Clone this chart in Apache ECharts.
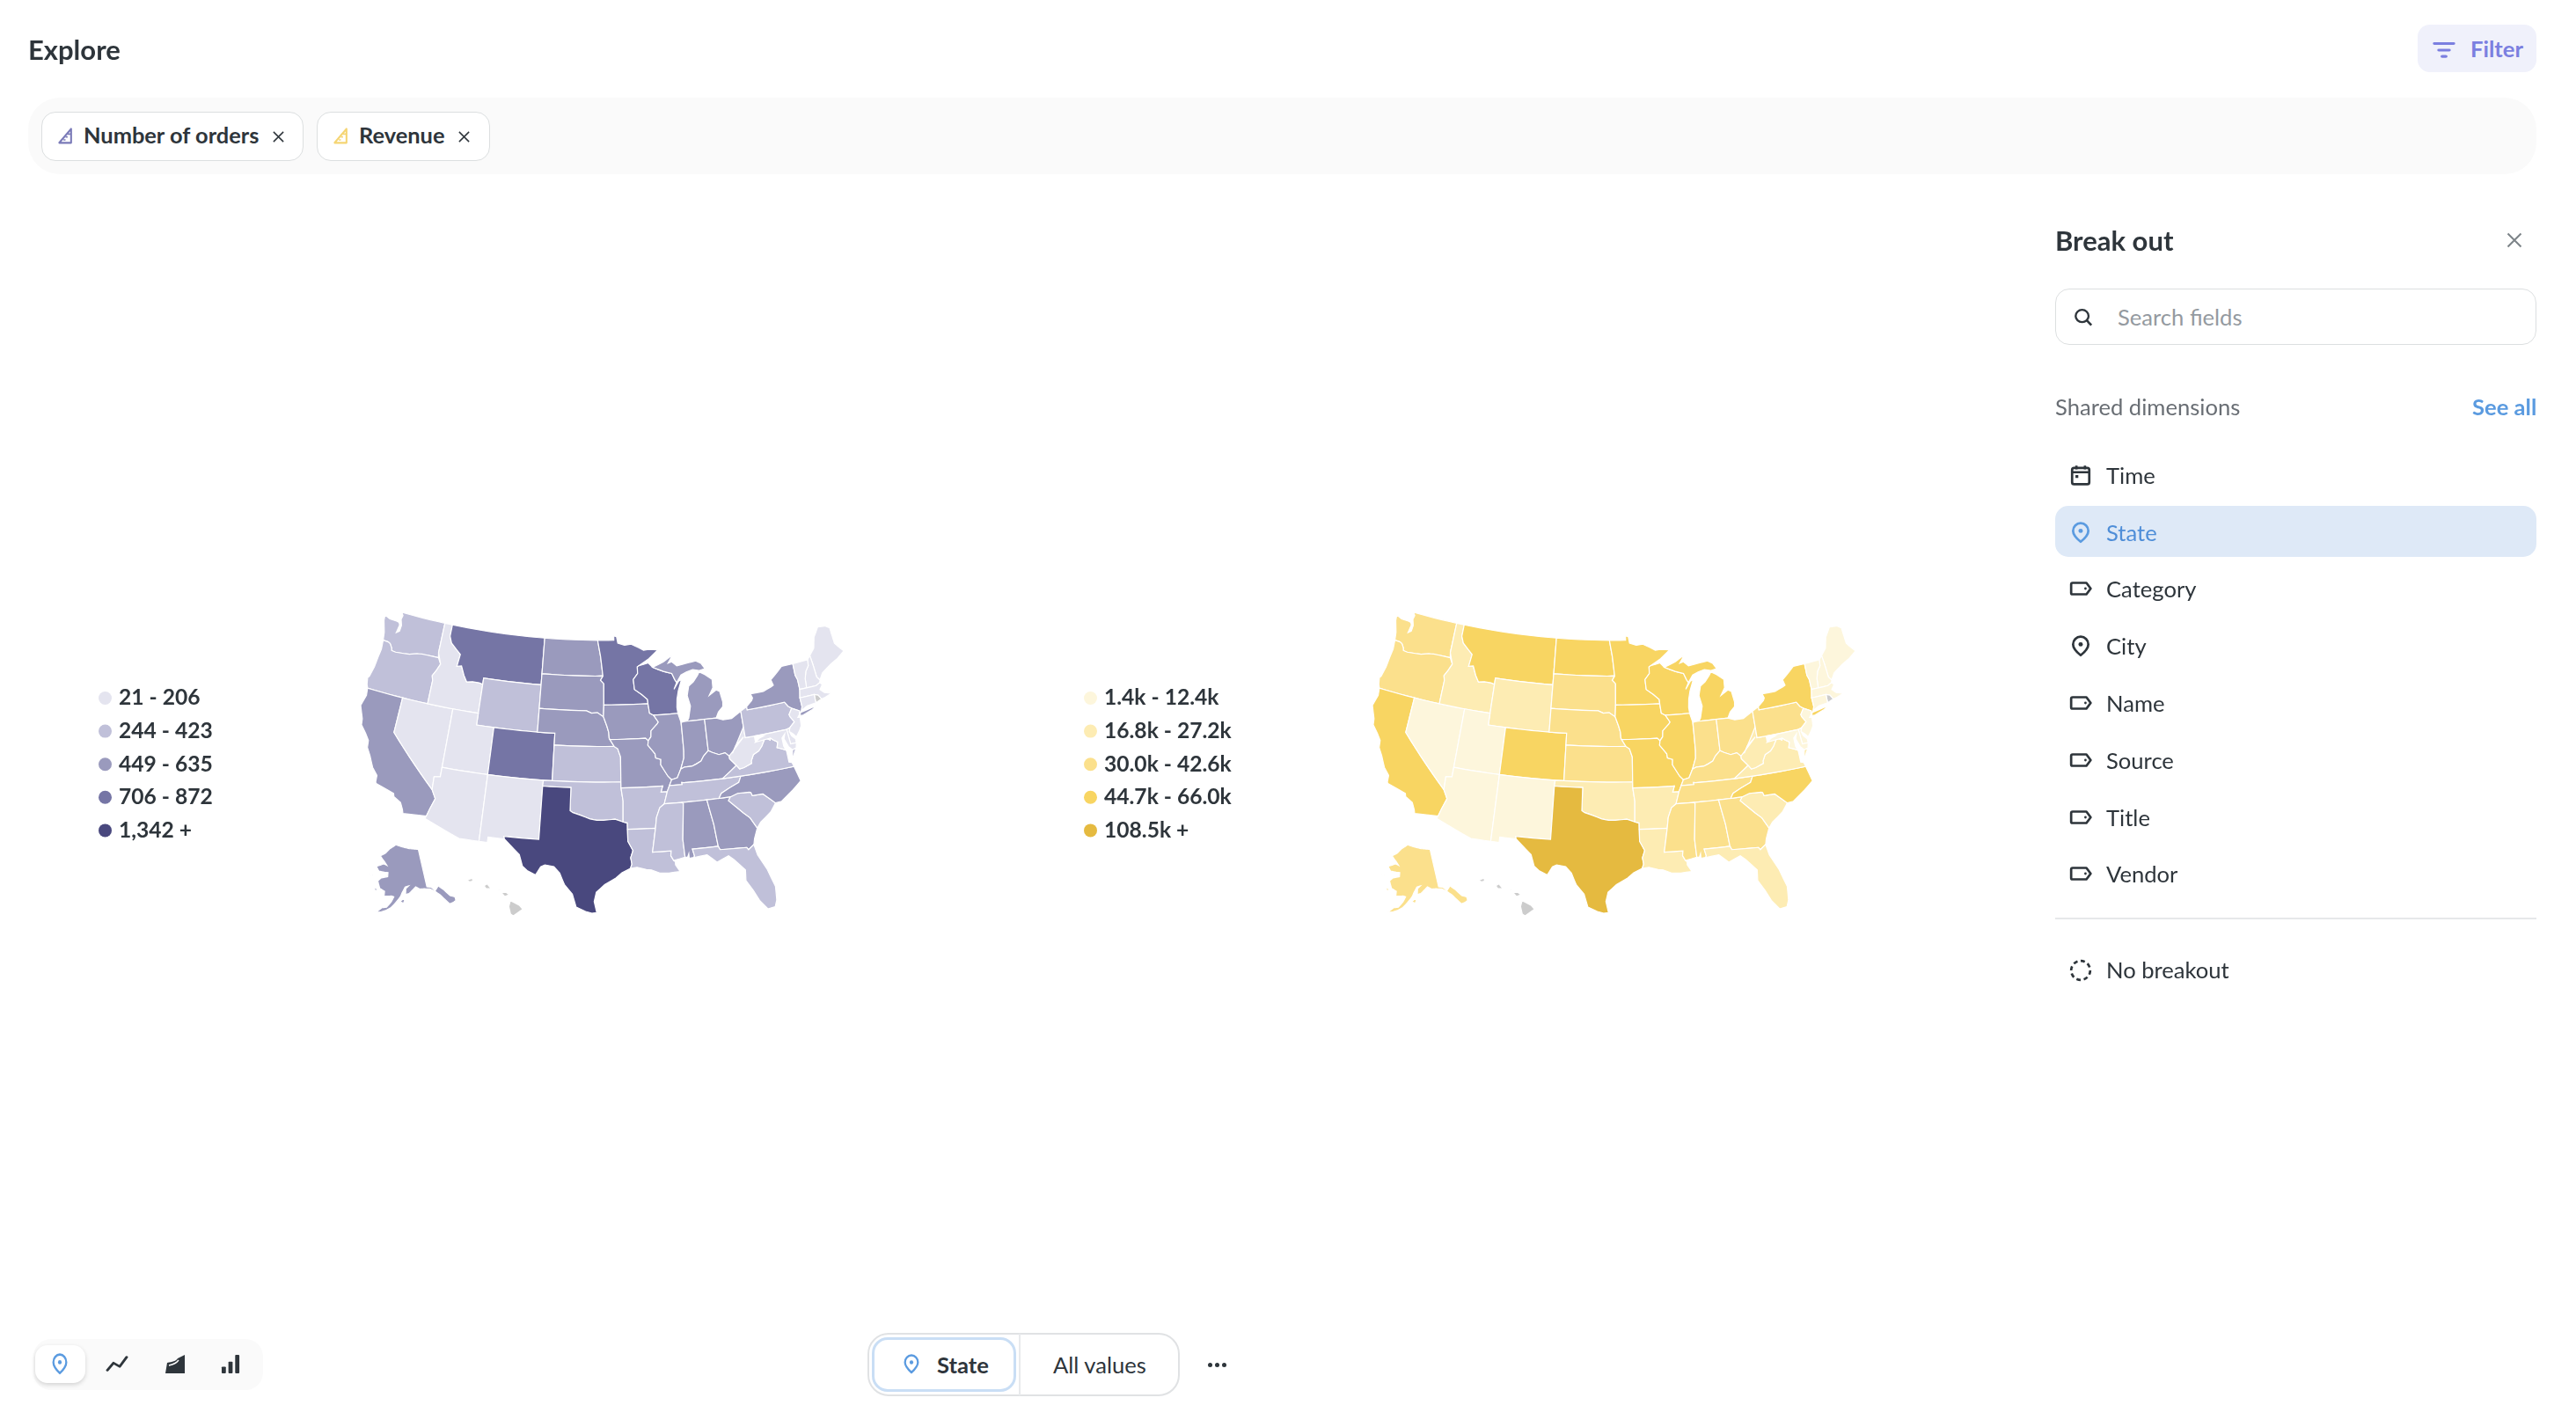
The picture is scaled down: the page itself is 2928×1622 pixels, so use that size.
<!DOCTYPE html>
<html><head><meta charset="utf-8">
<script src="https://cdn.jsdelivr.net/npm/echarts@6/dist/echarts.min.js"></script>
<style>
html,body{margin:0;padding:0;width:2928px;height:1622px;background:#fff;overflow:hidden;font-family:Lato,sans-serif;color:#2E353B}
#chart{position:absolute;left:0;top:0;width:2928px;height:1622px}
.b{position:absolute;box-sizing:border-box}
.t{position:absolute;white-space:nowrap;line-height:1;transform:translateY(-50%)}
svg{position:absolute;overflow:visible}
</style></head><body>
<div id="chart"></div>
<div id="ui"></div>
<script>
// ---------- chart data ----------
const stateNames = ['Washington','Oregon','California','Nevada','Idaho','Montana','Wyoming','Utah','Arizona','Colorado','New Mexico','North Dakota','South Dakota','Nebraska','Kansas','Oklahoma','Texas','Minnesota','Iowa','Missouri','Arkansas','Louisiana','Wisconsin','Illinois','Michigan','Indiana','Ohio','Kentucky','Tennessee','Mississippi','Alabama','Georgia','Florida','South Carolina','North Carolina','Virginia','West Virginia','Pennsylvania','New York','Maine','New Hampshire','Vermont','Massachusetts','Connecticut','New Jersey','Delaware','Maryland','Alaska'];
const orderValues = [330,300,560,150,130,800,290,120,190,760,110,480,470,500,330,280,1342,872,540,520,300,270,706,590,620,560,600,635,340,280,500,520,423,244,580,380,206,400,600,21,60,30,170,90,140,50,160,449];
const revenueValues = [34000,36000,60000,9000,22000,52000,20000,12000,11000,47000,8000,46000,38000,33000,35000,27000,108500,54000,49000,48000,24000,25000,50000,62000,66000,40000,42000,41000,37000,31000,30000,39000,27200,16800,58000,26000,18000,42600,64000,1400,5000,2500,12400,7000,10000,3000,6000,32000];
const orderLabels = ['21 - 206','244 - 423','449 - 635','706 - 872','1,342 +'];
const orderBins = [[21,206],[244,423],[449,635],[706,872],[1342,Infinity]];
const revenueLabels = ['1.4k - 12.4k','16.8k - 27.2k','30.0k - 42.6k','44.7k - 66.0k','108.5k +'];
const revenueBins = [[1400,12400],[16800,27200],[30000,42600],[44700,66000],[108500,Infinity]];
const orderColors = ['#E4E4EF','#C0C0D9','#9A9ABD','#7575A5','#49487E'];
const revenueColors = ['#FDF6DC','#FDECB3','#FBE08C','#F8D562','#E5BA40'];

// ---------- state outlines, lon/lat ----------
const P = s => s.trim().split(/\s+/).map(p => p.split(',').map(Number));
const R = a => a.slice().reverse();
const coastOR = P('-124.05,46.27 -123.95,45.5 -124.07,44.7 -124.15,43.9 -124.4,43 -124.55,42.84 -124.4,42.3 -124.21,42');
const coastCA = P('-124.21,42 -124.1,41.4 -124.4,40.44 -123.8,39.4 -123.7,38.9 -123,38.3 -122.5,37.8 -122.4,37.2 -121.9,36.6 -121.3,35.7 -120.65,35.15 -120.6,34.55 -120.47,34.45 -119.3,34.2 -118.5,34 -118.4,33.75 -117.6,33.4 -117.25,32.85 -117.12,32.53');
const columbia = P('-124.05,46.27 -123.4,46.25 -123.1,46.15 -122.8,45.85 -122.7,45.62 -122.2,45.58 -121.2,45.65 -120.5,45.72 -119.6,45.92 -119,45.93 -118.98,46 -116.92,46');
const snake = P('-116.92,46 -116.5,45.5 -116.85,44.9 -117.2,44.4 -117.03,44 -117.03,42');
const idMt = P('-116.05,49 -116.05,48 -115.7,47.45 -114.95,47 -114.35,46.65 -114.5,45.6 -113.95,45.7 -113.45,44.95 -113,44.45 -112.3,44.55 -111.5,44.55 -111.05,44.47');
const colorado = P('-114.72,32.72 -114.5,33.4 -114.15,34.3 -114.65,35 -114.7,36.1 -114.05,36.2 -114.05,37');
const redRiver = P('-100,34.56 -99.7,34.4 -98.9,34.2 -97.9,33.9 -97.2,33.8 -96.5,33.8 -95.3,33.88 -94.48,33.64');
const sabine = P('-94.04,32 -93.55,31.2 -93.8,30.6 -93.7,30.05 -93.85,29.7');
const rioGrande = P('-97.15,25.96 -97.6,25.9 -98.2,26.05 -99.1,26.4 -99.5,27.5 -100.3,28.3 -100.8,29.25 -101.4,29.77 -102.3,29.88 -102.7,29.7 -103.15,28.98 -104,29.3 -104.5,29.65 -104.9,30.6 -106,31.4 -106.53,31.78');
const redNorth = P('-97.23,49 -96.85,47.6 -96.56,46 -96.56,45.94');
const sdMn = P('-96.56,45.94 -96.85,45.6 -96.45,45.3 -96.45,43.5');
const bigSioux = P('-96.45,43.5 -96.5,42.5');
const sdNe = P('-104.05,43 -98.5,43 -97.9,42.8 -97.2,42.85 -96.5,42.5');
const missouriRiver = P('-96.5,42.5 -96.1,41.7 -95.9,41.2 -95.85,40.7 -95.77,40.58');
const missouriLow = P('-95.77,40.58 -95.3,40 -94.9,39.8 -94.6,39.1');
const upperMiss = P('-92.29,46.1 -92.85,45.6 -92.75,44.75 -91.9,44.3 -91.25,43.85 -91.22,43.5');
const miss2 = P('-91.22,43.5 -91.1,42.7 -90.65,42.5');
const miss3 = P('-90.65,42.5 -90.15,41.9 -90.3,41.75 -91.05,41.2 -91.1,40.7 -91.42,40.38');
const miss4 = P('-91.42,40.38 -91.5,40 -90.75,39.25 -90.7,38.9 -90.15,38.75 -90.2,38.3 -89.5,37.3 -89.13,36.98');
const miss5 = P('-89.13,36.98 -89.42,36.5');
const miss6 = P('-89.42,36.5 -89.7,36');
const miss7 = P('-89.7,36 -90.1,35');
const miss8 = P('-90.1,35 -90.6,34.7 -91,33.9 -91.17,33');
const miss9 = P('-91.17,33 -91.6,31');
const pearl = P('-91.6,31 -89.73,31 -89.8,30.6 -89.55,30.18');
const ohio1 = P('-89.13,36.98 -88.5,37.1 -88.05,37.8');
const ohio2 = P('-88.05,37.8 -87.6,37.95 -86.8,37.95 -86.3,38.1 -85.75,38.3 -85.4,38.7 -84.82,39.1');
const ohio3 = P('-84.82,39.1 -84.4,38.9 -83.7,38.65 -83,38.73 -82.6,38.4');
const ohio4 = P('-82.6,38.4 -82.2,38.6 -81.7,39.2 -80.7,39.8 -80.52,40.64');
const sandy = P('-82.6,38.4 -82.6,38.17 -81.97,37.54');
const kyVa = P('-81.97,37.54 -83.68,36.6');
const tnTop = P('-88.05,36.5 -88.07,36.68 -87.85,36.64 -83.68,36.6');
const tnVa = P('-83.68,36.6 -81.68,36.59');
const tnNc = P('-81.68,36.59 -82,36.1 -83.1,35.75 -84,35.4 -84.32,35');
const wvVa = P('-81.97,37.54 -81.68,37.2 -81.2,37.25 -80.3,37.5 -80.3,37.7 -79.95,38.2 -79.3,38.42 -78.87,38.77 -78.35,39.4 -77.83,39.13 -77.75,39.3');
const potomacW = P('-77.75,39.3 -78.4,39.6 -79,39.45 -79.48,39.2 -79.48,39.72');
const potomacE = P('-77.75,39.3 -77.5,39.1 -77.05,38.85 -77.25,38.4 -77,38.3 -76.35,38.05');
const delaware = P('-73.9,41 -74.7,41.36 -75.05,41.6 -75.35,42');
const delaware2 = P('-74.7,41.36 -75.15,40.9 -75.1,40.7 -74.75,40.2 -75.4,39.8');
const savannah = P('-83.1,35 -83.35,34.7 -82,33.5 -81.4,33 -80.85,32.05');
const ncSc = P('-83.1,35 -82.3,35.2 -81.05,35.15 -80.9,35.1 -80.8,34.82 -79.68,34.8 -78.55,33.86');
const ctRiver = P('-71.5,45.01 -71.6,44.5 -72.05,44.1 -72.35,43.5 -72.46,42.73');
const meNh = P('-71.1,45.3 -71.03,44.6 -70.98,43.4 -70.7,43.07');
const wiMi = P('-90.4,46.55 -89.1,46.14 -88.1,45.9 -87.8,45.35 -87.6,45.1');

const stateRings = {
 'Washington':[P('-122.76,49 -122.5,48.75 -122.6,48.4 -122.35,47.9 -122.4,47.4 -122.75,47.2 -122.6,47.9 -122.75,48.1 -123.1,48.15 -124,48.17 -124.73,48.38 -124.65,47.9 -124.2,46.95').concat(columbia, P('-117.04,46.42 -117.04,49'))],
 'Oregon':[[...R(columbia), ...coastOR.slice(1), ...P('-120,42 -117.03,42'), ...R(snake).slice(1)]],
 'California':[[...coastCA, ...P('-114.72,32.72 -114.5,33.4 -114.15,34.3 -114.65,35 -120,39 -120,42')]],
 'Nevada':[P('-120,42 -117.03,42 -114.04,42 -114.05,37 -114.05,36.2 -114.7,36.1 -114.65,35 -120,39')],
 'Idaho':[P('-117.04,49 -116.05,49').concat(idMt.slice(1), P('-111.05,42 -117.03,42'), R(snake).slice(1,-1), P('-117.04,46.42'))],
 'Montana':[P('-116.05,49 -104.05,49 -104.05,45 -111.05,45').concat(R(idMt))],
 'Wyoming':[P('-111.05,45 -104.05,45 -104.05,41 -111.05,41')],
 'Utah':[P('-114.04,42 -111.05,42 -111.05,41 -109.05,41 -109.05,37 -114.05,37')],
 'Arizona':[P('-114.05,37 -109.05,37 -109.05,31.33 -111.07,31.33 -114.82,32.5').concat(colorado)],
 'Colorado':[P('-109.05,41 -102.05,41 -102.05,37 -109.05,37')],
 'New Mexico':[P('-109.05,37 -103,37 -103.04,36.5 -103.06,32 -106.62,32 -106.53,31.78 -108.2,31.78 -108.2,31.33 -109.05,31.33')],
 'North Dakota':[P('-104.05,49').concat(redNorth, P('-104.05,45.94'))],
 'South Dakota':[P('-104.05,45.94').concat(sdMn, bigSioux, R(sdNe))],
 'Nebraska':[sdNe.concat(missouriRiver, P('-95.3,40 -102.05,40 -102.05,41 -104.05,41'))],
 'Kansas':[P('-102.05,40 -95.3,40 -94.9,39.8 -94.6,39.1 -94.62,37 -102.05,37')],
 'Oklahoma':[P('-103,37 -94.62,37 -94.62,36.5 -94.43,35.4').concat(R(redRiver), P('-100,36.5 -103.04,36.5'))],
 'Texas':[P('-103.04,36.5 -100,36.5').concat(redRiver, P('-94.04,33.55 -94.04,33'), sabine, P('-94.7,29.35 -95.3,28.9 -96.4,28.35 -97.2,27.7 -97.4,26.9'), rioGrande, P('-106.62,32 -103.06,32'))],
 'Minnesota':[P('-97.23,49 -95.15,49 -95.15,49.38 -94.8,49.3 -94.65,48.75 -93.8,48.55 -92.95,48.62 -92,48.3 -91.4,48.05 -90.75,48.1 -89.6,48 -90.8,47.3 -92.1,46.75 -92.29,46.66').concat(upperMiss, P('-96.45,43.5'), R(sdMn), R(redNorth))],
 'Iowa':[P('-96.45,43.5').concat(miss2, miss3, P('-91.72,40.6'), R(missouriRiver), P('-96.45,43.5'))],
 'Missouri':[P('-95.77,40.58 -91.72,40.6').concat(miss4, miss5, miss6, P('-90.37,36 -90.15,36.5 -94.62,36.5 -94.62,37'), R(missouriLow))],
 'Arkansas':[P('-94.62,36.5 -90.15,36.5 -90.37,36').concat(miss7, miss8, P('-94.04,33 -94.04,33.55 -94.48,33.64 -94.43,35.4'))],
 'Louisiana':[P('-94.04,33').concat(miss9, pearl, P('-89.4,30.05 -89.4,29.8 -89,29.2 -90.1,29.15 -91,29.2 -91.8,29.5 -92.3,29.55 -93.2,29.77'), R(sabine))],
 'Wisconsin':[P('-92.1,46.75 -90.9,46.95').concat(wiMi, P('-88,44.55 -87.35,45.2 -87,45.3 -87.5,44.4 -87.75,43.7 -87.85,43 -87.8,42.5'), R(miss2), R(upperMiss), P('-92.29,46.66'))],
 'Illinois':[P('-90.65,42.5 -87.8,42.5 -87.55,41.75 -87.52,41.7 -87.53,39.35 -87.6,38.7').concat(R(ohio1), R(miss4), R(miss3))],
 'Michigan':[wiMi.concat(P('-87,45.7 -86.3,45.9 -85.5,46.05 -84.75,45.9 -84,46 -84.4,46.5 -85,46.75 -86,46.67 -87.4,46.5 -88,46.9 -88.45,46.8 -87.8,47.47 -89,46.95')),
   P('-86.82,41.76 -84.8,41.76 -83.45,41.73 -83.1,42.2 -82.5,42.6 -82.42,43 -82.6,43.9 -83,44.07 -83.9,43.7 -83.35,44.3 -83.3,45 -84.1,45.5 -84.75,45.78 -85,45.5 -85.6,45 -86.2,44.7 -86.5,43.9 -86.25,43 -86.6,42')],
 'Indiana':[P('-87.52,41.7 -87.2,41.76 -86.82,41.76 -84.8,41.76').concat(R(ohio2), P('-87.6,38.7 -87.53,39.35'))],
 'Ohio':[P('-84.8,41.76 -83.45,41.73 -82.7,41.5 -81.7,41.5 -80.52,41.98').concat(R(ohio4), R(ohio3))],
 'Kentucky':[miss5.slice().reverse().concat(ohio1.slice(1), ohio2.slice(1), ohio3.slice(1), sandy.slice(1), kyVa.slice(1), R(tnTop).slice(1))],
 'Tennessee':[miss6.concat(miss7.slice(1)).reverse().concat(tnTop, tnVa.slice(1), tnNc.slice(1), P('-85.6,35 -88.2,35'))],
 'Mississippi':[P('-90.1,35 -88.2,35 -88.1,34.9 -88.47,31.9 -88.4,30.37 -89.55,30.18').concat(R(pearl), R(miss9), R(miss8))],
 'Alabama':[P('-88.2,35 -85.6,35 -85.18,32.87 -85.1,32 -85,31 -87.6,31 -87.45,30.4 -87.55,30.28 -88,30.25 -88,30.65 -88.15,30.35 -88.4,30.37 -88.47,31.9 -88.1,34.9')],
 'Georgia':[P('-85.6,35 -84.32,35').concat(savannah, P('-81.3,31.2 -81.45,30.72 -82.05,30.36 -82.2,30.57 -84.86,30.7 -85,31 -85.1,32 -85.18,32.87'))],
 'Florida':[P('-87.6,31 -85,31 -84.86,30.7 -82.2,30.57 -82.05,30.36 -81.45,30.72 -81.25,29.8 -80.55,28.45 -80.05,26.9 -80.15,25.75 -80.4,25.2 -81.1,25.12 -81.75,25.95 -82.2,26.9 -82.75,27.8 -82.65,28.7 -83.6,29.7 -84.1,30.1 -85.3,29.68 -86.2,30.4 -87.55,30.28 -87.45,30.4')],
 'South Carolina':[ncSc.concat(P('-79.2,33.2 -80.4,32.5'), R(savannah).slice(0,-1))],
 'North Carolina':[R(tnNc).concat(P('-75.87,36.55 -75.5,35.25 -76.5,34.65 -77.9,33.9'), R(ncSc))],
 'Virginia':[[...R(tnVa), ...R(kyVa).slice(1), ...wvVa.slice(1), ...potomacE.slice(1), ...P('-76.3,37.9 -76.3,37.55 -76.3,37 -76,36.92 -75.87,36.55')], P('-75.65,37.95 -75.2,38.03 -75.9,37.15')],
 'West Virginia':[P('-80.52,40.64 -80.52,39.72').concat(R(potomacW), R(wvVa), R(sandy).slice(1), R(ohio4).slice(1,-1))],
 'Pennsylvania':[P('-80.52,41.98 -79.76,42.27 -79.76,42').concat(R(delaware).slice(0,-1), delaware2, P('-75.79,39.72 -80.52,39.72 -80.52,40.64'))],
 'New York':[P('-79.76,42.27 -79.05,42.7 -78.9,42.9 -79.05,43.27 -77.5,43.27 -76.5,43.5 -76.2,43.6 -76.35,44.1 -75.8,44.4 -74.75,45 -73.35,45 -73.4,44 -73.25,43.6 -73.28,42.75 -73.5,42.05 -73.5,41.3 -73.65,41 -73.9,40.8 -74,40.7 -73.9,41').concat(delaware.slice(1), P('-79.76,42')),
   P('-74,40.6 -73.8,40.85 -72.6,40.98 -71.87,41.07 -72.5,40.82 -73.6,40.58')],
 'Maine':[meNh.concat(P('-70.2,43.6 -69,44.1 -68,44.4 -67,44.85 -67.45,45.3 -67.8,45.7 -67.8,47.07 -68.3,47.35 -69.2,47.45 -70,46.7 -70.4,45.8'))],
 'New Hampshire':[ctRiver.concat(P('-71.3,42.7 -70.82,42.87'), R(meNh))],
 'Vermont':[P('-73.35,45').concat(ctRiver, P('-73.28,42.75 -73.25,43.6 -73.4,44'))],
 'Massachusetts':[P('-73.5,42.05 -73.28,42.75 -72.46,42.73 -71.3,42.7 -70.82,42.87 -70.6,42.65 -71,42.3 -70.6,41.95 -70.05,41.8 -70.2,42.07 -69.95,41.7 -70.65,41.55 -71.12,41.5 -71.38,41.89 -71.8,42.02')],
 'Rhode Island':[P('-71.8,42.02 -71.38,41.89 -71.12,41.5 -71.85,41.32')],
 'Connecticut':[P('-73.5,42.05 -71.8,42.02 -71.85,41.32 -72.9,41.25 -73.65,41 -73.5,41.3')],
 'New Jersey':[P('-73.9,41').concat(delaware2.slice(0), P('-75.55,39.5 -75.2,39.25 -74.9,38.93 -74.4,39.4 -74.1,39.75 -74,40.45 -74.25,40.5 -74,40.7'))],
 'Delaware':[P('-75.79,39.72 -75.4,39.8 -75.55,39.5 -75.4,39.1 -75.05,38.78 -75.05,38.45 -75.7,38.46')],
 'Maryland':[P('-79.48,39.72 -75.79,39.72 -75.7,38.46 -75.05,38.45 -75.2,38.03 -75.65,37.95 -76,38.3 -76.3,39 -76.1,39.4 -76.5,39.1 -76.5,38.4').concat(R(potomacE), R(potomacW).slice(1,-1))],
 'Alaska':[P('-141,69.65 -141,60.3 -139.1,60 -137.5,58.9 -135.5,59.8 -133.5,58.4 -131.8,56.6 -130,55.9 -130.2,55 -131.5,54.8 -133.2,54.8 -134.5,56.2 -136,57.7 -137.5,58.6 -139.7,59.6 -142.5,60 -144.5,60.1 -146.5,60.8 -148.5,60 -150,59.4 -151.8,59.2 -151.5,60.6 -150,61.2 -151.8,61 -153.5,59.6 -154.2,58.8 -156.5,57.3 -158.5,56.1 -160.5,55.4 -163,54.8 -164.8,54.6 -162.5,55.9 -160.5,56.1 -158.5,57.5 -157.4,58.7 -158.6,58.9 -162,58.7 -162,59.9 -164.5,60.5 -165.4,61.5 -166,62.2 -164.5,63 -161,63.5 -161,64.5 -163,64.5 -166.3,64.6 -168.1,65.6 -164,66.5 -162,66.2 -163.8,67.1 -166.8,68.3 -163.5,69.2 -161,70.3 -156.8,71.35 -152,70.8 -147,70.2'),
   P('-154.5,57.5 -153,57.1 -152.3,58 -153.5,58'), P('-167,60.3 -165.7,60.3 -166,59.8 -167.2,59.95'), P('-171.5,63.4 -169,63.3 -170,63.1')],
 'Hawaii':[P('-159.8,22.05 -159.35,22.2 -159.3,21.95 -159.6,21.88'), P('-158.27,21.55 -158,21.7 -157.65,21.3 -158.1,21.3'), P('-156.7,20.95 -156.25,20.95 -156,20.75 -156.4,20.6'), P('-157.25,21.2 -156.75,21.15 -157.25,21.08'), P('-155.9,20.25 -155.1,19.85 -154.8,19.5 -155.65,18.95 -155.9,19.1 -156.05,19.75')]
};

// insert extra vertices so straight borders bend correctly in the conic projection
function dense(ring){
  const out=[], pts=ring.concat([ring[0]]);
  for(let i=0;i<pts.length-1;i++){
    const a=pts[i], b=pts[i+1], d=Math.hypot(a[0]-b[0],a[1]-b[1]), n=Math.max(1,Math.ceil(d));
    for(let j=0;j<n;j++) out.push([a[0]+(b[0]-a[0])*j/n, a[1]+(b[1]-a[1])*j/n]);
  }
  out.push(out[0].slice());
  return out;
}
const usaGeo = {type:'FeatureCollection',features:Object.keys(stateRings).map(name=>({
  type:'Feature',properties:{name},
  geometry:{type:'MultiPolygon',coordinates:stateRings[name].map(r=>[dense(r)])}
}))};

// Albers USA composite
function conic(phi1,phi2,lon0,lat0,k,tx,ty){
  const r=Math.PI/180, s1=Math.sin(phi1*r), s2=Math.sin(phi2*r), n=(s1+s2)/2, c=1+s1*(2*n-s1), r0=Math.sqrt(c-2*n*Math.sin(lat0*r))/n;
  return (lon,lat)=>{const t=(lon-lon0)*r*n, rho=Math.sqrt(c-2*n*Math.sin(lat*r))/n;
    return [k*rho*Math.sin(t)+tx, -k*(r0-rho*Math.cos(t))+ty];};
}
const pLower=conic(29.5,45.5,-96.6,38.7,1,0,0);
const pAk=conic(55,65,-156,58.5,0.35,-0.307,0.201);
const pHi=conic(8,18,-160,19.9,1,-0.205,0.212);
const albersUsa={
  project:p=>{const [lon,lat]=p; if(lat>51) return pAk(lon,lat); if(lat<25&&lon<-150) return pHi(lon,lat); return pLower(lon,lat);},
  unproject:p=>p
};
// each chart needs its own map name: ECharts merges map series that share one
echarts.registerMap('USA_orders',usaGeo);
echarts.registerMap('USA_revenue',usaGeo);

const chart=echarts.init(document.getElementById('chart'),null,{renderer:'canvas'});
const pieces=(bins,labels,colors)=>bins.map((b,i)=>({min:b[0],max:b[1]===Infinity?1e9:b[1],label:labels[i],color:colors[i]}));
const seriesData=vals=>stateNames.map((n,i)=>({name:n,value:vals[i]}));
const legend=(idx,left,bins,labels,colors)=>({
  type:'piecewise',seriesIndex:idx,left,top:781,orient:'vertical',align:'left',inverse:true,padding:0,
  pieces:pieces(bins,labels,colors),itemSymbol:'circle',itemWidth:15,itemHeight:15,itemGap:12.6,textGap:8,
  selectedMode:false,hoverLink:false,
  textStyle:{fontFamily:'Lato',fontSize:24.6,fontWeight:700,color:'#2E353B'}
});
const mapSeries=(map,left,vals)=>({
  type:'map',map,projection:albersUsa,left,top:696,width:549,height:345,silent:true,
  selectedMode:false,data:seriesData(vals),label:{show:false},emphasis:{disabled:true},
  itemStyle:{areaColor:'#CCCCCC',borderColor:'#FFFFFF',borderWidth:1.2}
});
chart.setOption({
  animation:false,
  visualMap:[legend(0,112,orderBins,orderLabels,orderColors),legend(1,1232,revenueBins,revenueLabels,revenueColors)],
  series:[mapSeries('USA_orders',410,orderValues),mapSeries('USA_revenue',1560,revenueValues)]
});

// ---------- surrounding interface ----------
const fieldRows=[['Time','cal',541],['State','pin',606],['Category','tag',670],['City','pin',735],['Name','tag',800],['Source','tag',865],['Title','tag',930],['Vendor','tag',994]];
const INK='#2E353B', BLUE='#5B9BE0';
const icons={
 pin:c=>`<path d="M12 2.5a8 8 0 0 0-8 8c0 4.6 5 9 8 11.5 3-2.5 8-6.900 8-11.500a8 8 0 0 0-8-8z" fill="none" stroke="${c}" stroke-width="2.500" stroke-linejoin="round"/><circle cx="12" cy="10.500" r="2.300" fill="${c}"/>`,
 tag:c=>`<path d="M3.500 6h14.500l4.500 6-4.500 6H3.500a1.500 1.500 0 0 1-1.500-1.500v-9A1.500 1.500 0 0 1 3.500 6z" fill="none" stroke="${c}" stroke-width="2.500" stroke-linejoin="round"/><circle cx="17" cy="12" r="1.300" fill="${c}"/>`,
 cal:c=>`<rect x="3" y="4.500" width="18" height="17" rx="2" fill="none" stroke="${c}" stroke-width="2.500"/><path d="M3 9h18M7.500 2v4M16.500 2v4" stroke="${c}" stroke-width="2.500"/><rect x="6.500" y="12" width="3" height="3" fill="${c}"/>`,
 ruler:c=>`<path d="M3 22L20 3v19z" fill="none" stroke="${c}" stroke-width="2.600" stroke-linejoin="round"/><path d="M15 10h4M12 14h3M9 18h3" stroke="${c}" stroke-width="2"/>`,
 x:c=>`<path d="M3 3l18 18M21 3L3 21" stroke="${c}" stroke-width="2.400"/>`,
 search:c=>`<circle cx="10.500" cy="10.500" r="8" fill="none" stroke="${c}" stroke-width="2.600"/><path d="M16.500 16.500L22 22.500" stroke="${c}" stroke-width="2.800"/>`,
 filter:c=>`<path d="M1 3h22M6 12h12" stroke="${c}" stroke-width="3.400" stroke-linecap="round"/><path d="M10 20.500h4" stroke="${c}" stroke-width="4" stroke-linecap="round"/>`,
 dash:c=>`<circle cx="12" cy="12" r="10" fill="none" stroke="${c}" stroke-width="2.500" stroke-dasharray="4.500 3.300"/>`,
 line:c=>`<path d="M1 21l7-10 7 5 8-13" fill="none" stroke="${c}" stroke-width="3" stroke-linejoin="round" stroke-linecap="round"/>`,
 area:c=>`<path d="M1 23l2-12c6-1 10-2 12-5l8-4v21z" fill="${c}"/><path d="M5 14c5-1 8-2 11-6" fill="none" stroke="#fff" stroke-width="1.500"/>`,
 bars:c=>`<rect x="1" y="15" width="5" height="8" rx="1" fill="${c}"/><rect x="9" y="9" width="5" height="14" rx="1" fill="${c}"/><rect x="17" y="1" width="5" height="22" rx="1" fill="${c}"/>`
};
let h='';
const box=(x,y,x2,y2,css)=>{h+=`<div class="b" style="left:${x}px;top:${y}px;width:${x2-x}px;height:${y2-y}px;${css}"></div>`};
const txt=(s,x,cy,size,weight,color)=>{h+=`<div class="t" style="left:${x}px;top:${cy}px;font-size:${size}px;font-weight:${weight};color:${color}">${s}</div>`};
const ico=(n,cx,cy,w,hh,c)=>{h+=`<svg viewBox="0 0 24 24" preserveAspectRatio="none" style="left:${cx-w/2}px;top:${cy-hh/2}px;width:${w}px;height:${hh}px">${icons[n](c)}</svg>`};
txt('Explore',32,56,31,700,INK);
box(2748,28,2883,82,'background:#F0F1FB;border-radius:14px');
ico('filter',2778,57,24,20,'#7B7FE0'); txt('Filter',2808,56,25.6,700,'#7B7FE0');
box(32,111,2883,198,'background:#FAFAFA;border-radius:36px');
box(47,127,345,183,'background:#fff;border:1.500px solid #DCDFE0;border-radius:16px');
ico('ruler',74,154,19,20,'#7A7AB8'); txt('Number of orders',95,154,25.4,700,INK); ico('x',316,155,15,15,INK);
box(360,127,557,183,'background:#fff;border:1.500px solid #DCDFE0;border-radius:16px');
ico('ruler',387,154,19,20,'#F5D573'); txt('Revenue',408,154,25.4,700,INK); ico('x',527,155,15,15,INK);
txt('Break out',2336,273,31,700,INK); ico('x',2858,273,20,20,'#7C8388');
box(2336,328,2883,392,'background:#fff;border:1.500px solid #DCDFE0;border-radius:16px');
ico('search',2368,360,22,21,INK); txt('Search fields',2407,361,25.6,400,'#949AA0');
txt('Shared dimensions',2336,463,25.6,400,'#696E74'); txt('See all',2810,463,25.6,700,BLUE);
box(2336,575,2883,633,'background:#DEE9F7;border-radius:15px');
fieldRows.forEach(([label,icon,y])=>{const c=label==='State'?BLUE:INK; ico(icon,2365,y-1,26,26,c); txt(label,2394,y,25.6,400,label==='State'?'#4F8ED8':INK);});
box(2336,1043,2883,1045,'background:#E6E8EA');
ico('dash',2365,1103,26,26,INK); txt('No breakout',2394,1103,25.6,400,INK);
box(38,1522,299,1580,'background:#FAFAFA;border-radius:20px');
box(40,1529,97,1572,'background:#fff;border-radius:14px;box-shadow:0 2px 5px rgba(0,0,0,.16)');
ico('pin',68,1550,22,26,BLUE); ico('line',133,1550,24,20,INK); ico('area',199,1550,24,24,INK); ico('bars',262,1550,23,23,INK);
box(986,1515,1341,1587,'background:#fff;border:2px solid #E0E2E4;border-radius:24px');
box(991,1520,1155,1582,'background:#fff;border:3.500px solid #C9DEF5;border-radius:18px');
box(1158,1516,1160,1586,'background:#E8EAEC');
ico('pin',1036,1550,22,24,BLUE); txt('State',1065,1552,25.6,700,INK); txt('All values',1197,1552,25.6,400,INK);
[1375,1383,1391].forEach(x=>box(x-2.5,1548.5,x+2.5,1553.5,'background:'+INK+';border-radius:50%'));
document.getElementById('ui').innerHTML=h;
</script>
</body></html>
